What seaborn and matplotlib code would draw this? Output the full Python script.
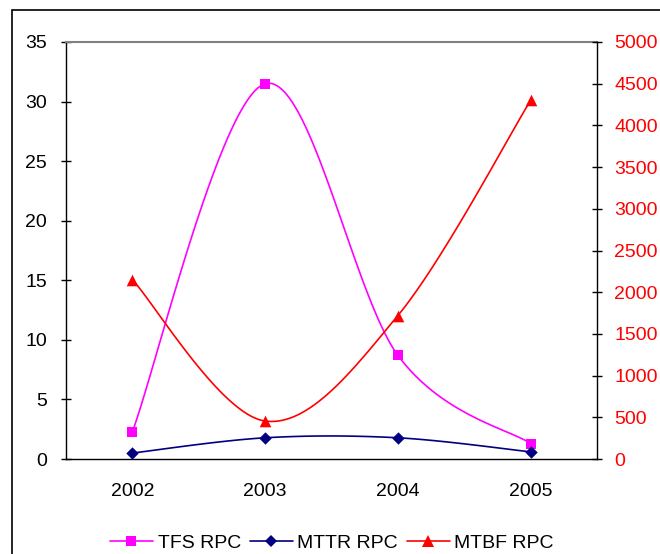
import numpy as np
import pandas as pd
import matplotlib
matplotlib.use("Agg")
import matplotlib.pyplot as plt
import seaborn as sns
from matplotlib.lines import Line2D
from matplotlib.patches import Rectangle

years = ["2002", "2003", "2004", "2005"]
tfs_rpc = [2.3, 31.5, 8.7, 1.3]
mttr_rpc = [0.5, 1.78, 1.78, 0.6]
mtbf_rpc = [2150, 455, 1720, 4300]

sns.set_style("white")
plt.rcParams["font.family"] = ["Liberation Sans", "DejaVu Sans"]
plt.rcParams["text.color"] = "black"

def smooth(xs, ys, n=40, t=1/6):
    P = np.column_stack([xs, ys]).astype(float)
    m = len(P)
    out = []
    for i in range(m - 1):
        p0 = P[max(i - 1, 0)]
        p1 = P[i]
        p2 = P[i + 1]
        p3 = P[min(i + 2, m - 1)]
        c1 = p1 + (p2 - p0) * t
        c2 = p2 - (p3 - p1) * t
        s = np.linspace(0, 1, n)[:, None]
        seg = ((1 - s) ** 3) * p1 + 3 * ((1 - s) ** 2) * s * c1 + 3 * (1 - s) * s ** 2 * c2 + s ** 3 * p2
        out.append(seg if i == 0 else seg[1:])
    seg = np.vstack(out)
    return seg[:, 0], seg[:, 1]

xpos = np.arange(len(years))

fig = plt.figure(figsize=(6.6, 5.54), dpi=100)
ax = fig.add_axes([66/660, (554-459)/554, 531/660, 417/554])
ax2 = ax.twinx()

MAG, NAVY, RED = "#FF00FF", "#000080", "#FF0000"

sx, sy = smooth(xpos, tfs_rpc)
sns.lineplot(x=sx, y=sy, ax=ax, color=MAG, lw=1.2, sort=False, estimator=None)
sns.scatterplot(x=xpos, y=tfs_rpc, ax=ax, color=MAG, marker="s", s=45, edgecolor=MAG, linewidth=0, zorder=5)

sx, sy = smooth(xpos, mttr_rpc)
sns.lineplot(x=sx, y=sy, ax=ax, color=NAVY, lw=1.2, sort=False, estimator=None)
sns.scatterplot(x=xpos, y=mttr_rpc, ax=ax, color=NAVY, marker="D", s=40, edgecolor=NAVY, linewidth=0, zorder=5)

sx, sy = smooth(xpos, mtbf_rpc)
sns.lineplot(x=sx, y=sy, ax=ax2, color=RED, lw=1.2, sort=False, estimator=None)
sns.scatterplot(x=xpos, y=mtbf_rpc, ax=ax2, color=RED, marker="^", s=70, edgecolor=RED, linewidth=0, zorder=5)

ax.set_xlim(-0.5, len(years) - 0.5)
ax.set_ylim(0, 35)
ax2.set_ylim(0, 5000)
ax.set_yticks(np.arange(0, 36, 5))
ax2.set_yticks(np.arange(0, 5001, 500))

ax.set_xticks(np.arange(-0.5, len(years), 1.0))
ax.set_xticklabels([])
ax.set_xticks(xpos, minor=True)
ax.set_xticklabels(years, minor=True)
ax.tick_params(axis="x", which="major", direction="out", length=6, width=1, color="black")
ax.tick_params(axis="x", which="minor", length=0, pad=17, labelsize=14, labelcolor="black")
ax.tick_params(axis="y", direction="inout", length=7, width=1, color="black", pad=10, labelsize=14, labelcolor="black")
ax2.tick_params(axis="y", direction="inout", length=7, width=1, color="black", pad=9, labelsize=14, labelcolor=RED)

for a in (ax, ax2):
    a.set_xlabel("")
    a.set_ylabel("")
    for sp in a.spines.values():
        sp.set_visible(False)
ax.spines["left"].set_visible(True)
ax.spines["left"].set_color("black")
ax.spines["bottom"].set_visible(True)
ax.spines["bottom"].set_color("black")
ax.spines["top"].set_visible(True)
ax.spines["top"].set_color("#808080")
ax.spines["top"].set_linewidth(1.5)
ax2.spines["right"].set_visible(True)
ax2.spines["right"].set_color("black")
for sp in ("left", "bottom", "right"):
    ax.spines[sp].set_linewidth(1)
ax2.spines["right"].set_linewidth(1)
ax.grid(False)
ax2.grid(False)

handles = [
    Line2D([], [], color=MAG, lw=1.2, marker="s", markersize=6.5, markeredgewidth=0),
    Line2D([], [], color=NAVY, lw=1.2, marker="D", markersize=6, markeredgewidth=0),
    Line2D([], [], color=RED, lw=1.2, marker="^", markersize=8, markeredgewidth=0),
]
fig.legend(handles, ["TFS RPC", "MTTR RPC", "MTBF RPC"], loc="center",
           bbox_to_anchor=(332/660, (554-543)/554), ncol=3, frameon=False,
           numpoints=1, handlelength=2.2, handletextpad=0.25, columnspacing=0.45,
           fontsize=14, labelcolor="black")

fig.patches.append(Rectangle((12/660, -0.1), 1.2, 1 - 10/554 + 0.1,
                             transform=fig.transFigure, fill=False,
                             edgecolor="black", lw=1.2, zorder=0))

fig.savefig("out.png", dpi=100)
